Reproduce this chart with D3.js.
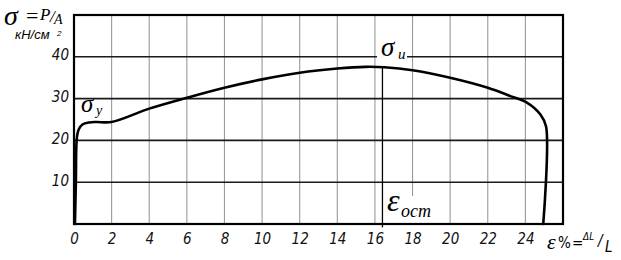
<!DOCTYPE html>
<html><head><meta charset="utf-8">
<script src="https://cdn.jsdelivr.net/npm/d3@7"></script>
<style>
html,body{margin:0;padding:0;background:#fff;}
svg{display:block;}
</style></head>
<body>
<svg id="chart" width="621" height="260"></svg>
<script>
// ---- data ----
const xTicks = [0, 2, 4, 6, 8, 10, 12, 14, 16, 18, 20, 22, 24];
const xGrid = [2, 4, 6, 8, 10, 12, 14, 16, 18, 20, 22, 24];
const yTicks = [10, 20, 30, 40];
const strain = [0.05, 0.1, 0.15, 0.25, 0.45, 0.8, 1.2, 2.0, 4.0, 6.0, 8.0, 10.0, 12.0, 14.0, 15.5, 16.5, 18.0, 20.0, 22.0, 23.2, 24.1, 24.8, 25.1, 24.95];
const stress = [0, 10, 20.5, 22.6, 23.8, 24.3, 24.4, 24.4, 27.6, 30.2, 32.6, 34.6, 36.2, 37.2, 37.6, 37.5, 36.8, 35.0, 32.6, 30.6, 29.0, 26.2, 23.3, 0];
const residualStrain = 16.4;
const peakStress = 37.6;

const svg = d3.select("#chart");
const x = d3.scaleLinear().domain([0, 26]).range([74, 563]);
const y = d3.scaleLinear().domain([0, 50]).range([224, 15]);

// vertical grid
svg.append("g").selectAll("line").data(xGrid).join("line")
  .attr("x1", d => x(d)).attr("x2", d => x(d))
  .attr("y1", y(50)).attr("y2", y(0))
  .attr("stroke", "#9a9a9a").attr("stroke-width", 1.1);
// horizontal grid
svg.append("g").selectAll("line").data(yTicks).join("line")
  .attr("x1", x(0)).attr("x2", x(26))
  .attr("y1", d => y(d)).attr("y2", d => y(d))
  .attr("stroke", "#1a1a1a").attr("stroke-width", 1.6);

// label backgrounds (gaps in grid)
svg.append("rect").attr("x", 377).attr("y", 38).attr("width", 30).attr("height", 24).attr("fill", "#fff");
svg.append("rect").attr("x", 386).attr("y", 196).attr("width", 50).attr("height", 27).attr("fill", "#fff");

// frame
svg.append("rect").attr("x", x(0)).attr("y", y(50))
  .attr("width", x(26) - x(0)).attr("height", y(0) - y(50))
  .attr("fill", "none").attr("stroke", "#000").attr("stroke-width", 2.2);

// residual strain line
svg.append("line")
  .attr("x1", x(residualStrain)).attr("x2", x(residualStrain))
  .attr("y1", y(peakStress)).attr("y2", y(-0.8))
  .attr("stroke", "#000").attr("stroke-width", 1.3);

// curve
const pts = strain.map((s, i) => [s, stress[i]]);
const line = d3.line().x(d => x(d[0])).y(d => y(d[1])).curve(d3.curveCatmullRom.alpha(0.5));
svg.append("path").attr("d", line(pts))
  .attr("fill", "none").attr("stroke", "#000").attr("stroke-width", 2.6)
  .attr("stroke-linejoin", "round").attr("stroke-linecap", "round");

const tickFont = "'Liberation Sans Narrow','DejaVu Sans Condensed','Liberation Sans',sans-serif";
// x axis
const xAxis = svg.append("g").attr("transform", `translate(0,${y(0) + 15})`)
  .call(d3.axisBottom(x).tickValues(xTicks).tickSize(0).tickPadding(0).tickFormat(d3.format("d")));
xAxis.select(".domain").remove();
xAxis.selectAll("text").attr("font-family", tickFont).attr("font-style", "italic")
  .attr("font-size", 15).attr("fill", "#111").attr("dy", "0.35em");
// y axis
const yAxis = svg.append("g").attr("transform", `translate(${x(0) - 5},0)`)
  .call(d3.axisLeft(y).tickValues(yTicks).tickSize(0).tickPadding(0).tickFormat(d3.format("d")));
yAxis.select(".domain").remove();
yAxis.selectAll("text").attr("font-family", tickFont).attr("font-style", "italic")
  .attr("font-size", 15).attr("fill", "#111").attr("dy", "0.2em");

const serif = "'Liberation Serif','DejaVu Serif',serif";
// y label: σ = P/A
const yl = svg.append("text").attr("font-family", serif).attr("fill", "#000");
yl.append("tspan").attr("x", 4).attr("y", 25).attr("font-size", 28).attr("font-style", "italic").text("σ");
yl.append("tspan").attr("x", 26).attr("y", 23).attr("font-size", 22).text("=");
yl.append("tspan").attr("x", 40).attr("y", 20).attr("font-size", 17).attr("font-style", "italic").text("P");
yl.append("tspan").attr("x", 50).attr("y", 22).attr("font-size", 17).attr("font-style", "italic").text("/");
yl.append("tspan").attr("x", 54).attr("y", 24).attr("font-size", 14).attr("font-style", "italic").text("A");
const ul = svg.append("text").attr("font-family", "'Liberation Sans',Arial,sans-serif").attr("fill", "#000").attr("font-style", "italic");
ul.append("tspan").attr("x", 15).attr("y", 39).attr("font-size", 13).text("кН/см");
ul.append("tspan").attr("x", 57).attr("y", 36).attr("font-size", 8).text("2");

// σy
const sy = svg.append("text").attr("font-family", serif).attr("fill", "#000").attr("font-style", "italic");
sy.append("tspan").attr("x", 81).attr("y", 112).attr("font-size", 25).text("σ");
sy.append("tspan").attr("x", 96).attr("y", 115).attr("font-size", 14).text("y");
// σu
const su = svg.append("text").attr("font-family", serif).attr("fill", "#000").attr("font-style", "italic");
su.append("tspan").attr("x", 381).attr("y", 56).attr("font-size", 27).text("σ");
su.append("tspan").attr("x", 398).attr("y", 59).attr("font-size", 15).text("u");
// εост
const eo = svg.append("text").attr("font-family", serif).attr("fill", "#000").attr("font-style", "italic");
eo.append("tspan").attr("x", 387).attr("y", 211).attr("font-size", 32).text("ε");
eo.append("tspan").attr("x", 401).attr("y", 217).attr("font-size", 18).text("ост");

// x axis label ε% = ΔL/L
const xl = svg.append("text").attr("fill", "#000").attr("font-family", tickFont);
xl.append("tspan").attr("x", 547).attr("y", 249).attr("font-size", 22).attr("font-family", serif).attr("font-style", "italic").text("ε");
xl.append("tspan").attr("x", 558).attr("y", 248).attr("font-size", 15).text("%");
xl.append("tspan").attr("x", 572).attr("y", 248).attr("font-size", 15).text("=");
xl.append("tspan").attr("x", 583).attr("y", 240).attr("font-size", 10).attr("font-style", "italic").text("ΔL");
xl.append("tspan").attr("x", 598).attr("y", 246).attr("font-size", 15).attr("font-style", "italic").text("/");
xl.append("tspan").attr("x", 605).attr("y", 252).attr("font-size", 15).attr("font-style", "italic").text("L");
</script>
</body></html>
